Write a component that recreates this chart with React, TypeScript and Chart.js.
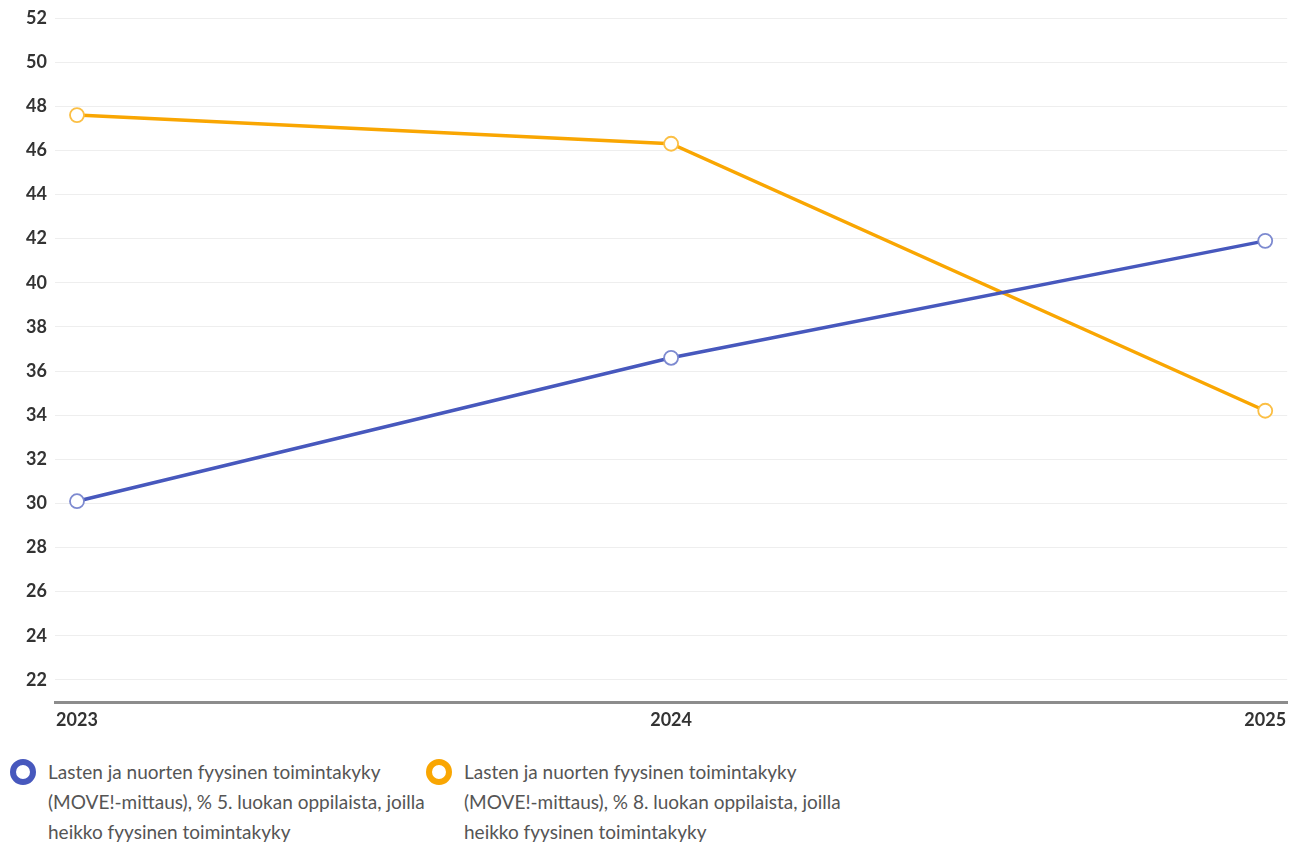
import React, { useEffect, useRef } from "react";
import { Chart, registerables } from "chart.js";

Chart.register(...registerables);

const years = ["2023", "2024", "2025"];
const grade5 = [30.1, 36.6, 41.9];
const grade8 = [47.6, 46.3, 34.2];
const yTicks = [22, 24, 26, 28, 30, 32, 34, 36, 38, 40, 42, 44, 46, 48, 50, 52];
const legendLines5 = [
  "Lasten ja nuorten fyysinen toimintakyky",
  "(MOVE!-mittaus), % 5. luokan oppilaista, joilla",
  "heikko fyysinen toimintakyky",
];
const legendLines8 = [
  "Lasten ja nuorten fyysinen toimintakyky",
  "(MOVE!-mittaus), % 8. luokan oppilaista, joilla",
  "heikko fyysinen toimintakyky",
];

const BLUE = "#4758bd";
const ORANGE = "#f9a602";
const FONT = "'Source Sans Pro', Lato, 'Noto Sans', sans-serif";

export default function App() {
  const ref = useRef<HTMLCanvasElement | null>(null);

  useEffect(() => {
    if (!ref.current) return;
    const chart = new Chart(ref.current, {
      type: "line",
      data: {
        datasets: [
          {
            label: legendLines5.join(" "),
            data: years.map((y, i) => ({ x: Number(y), y: grade5[i] })),
            borderColor: BLUE,
            backgroundColor: "#ffffff",
            pointBorderColor: "#7d8ad0",
            pointBackgroundColor: "#ffffff",
            borderWidth: 3.5,
            pointRadius: 7,
            pointBorderWidth: 1.8,
            tension: 0,
          },
          {
            label: legendLines8.join(" "),
            data: years.map((y, i) => ({ x: Number(y), y: grade8[i] })),
            borderColor: ORANGE,
            backgroundColor: "#ffffff",
            pointBorderColor: "#fbbf45",
            pointBackgroundColor: "#ffffff",
            borderWidth: 3.5,
            pointRadius: 7,
            pointBorderWidth: 1.8,
            tension: 0,
          },
        ],
      },
      options: {
        animation: false,
        responsive: false,
        layout: { padding: { top: 10, right: 5, left: 0, bottom: 0 } },
        plugins: { legend: { display: false }, tooltip: { enabled: false } },
        scales: {
          x: {
            type: "linear",
            min: 2022.963,
            max: 2025.037,
            afterBuildTicks: (scale: any) => {
              scale.ticks = years.map((y) => ({ value: Number(y) }));
            },
            afterFit: (scale: any) => {
              scale.height = 40;
              scale.paddingLeft = 0;
              scale.paddingRight = 0;
            },
            grid: { display: false, drawTicks: false },
            border: { display: true, color: "#8c8c8c", width: 3 },
            ticks: {
              padding: 7,
              color: "#333333",
              font: { family: FONT, size: 18, weight: "bold" },
              maxRotation: 0,
              autoSkip: false,
              callback: (v: any) => String(v),
            },
          },
          y: {
            min: 21,
            max: 52,
            afterBuildTicks: (scale: any) => {
              scale.ticks = yTicks.map((v) => ({ value: v }));
            },
            afterFit: (scale: any) => {
              scale.width = 47;
              scale.paddingTop = 0;
              scale.paddingBottom = 0;
            },
            grid: { color: "#eeeeee", lineWidth: 1, drawTicks: false },
            border: { display: false },
            ticks: {
              padding: 8,
              color: "#333333",
              font: { family: FONT, size: 18, weight: "bold" },
            },
          },
        },
      },
    });
    return () => chart.destroy();
  }, []);

  const item = (color: string, lines: string[]) => (
    <div style={{ display: "flex", alignItems: "flex-start", width: 416 }}>
      <div
        style={{
          width: 14,
          height: 14,
          borderRadius: "50%",
          border: `6px solid ${color}`,
          background: "#fff",
          marginTop: -7,
          marginLeft: 2,
          flex: "0 0 auto",
        }}
      />
      <div
        style={{
          marginLeft: 12,
          color: "#555555",
          fontFamily: FONT,
          fontSize: 19,
          lineHeight: "30px",
          marginTop: -9,
          whiteSpace: "nowrap",
        }}
      >
        {lines.map((l, i) => (
          <div key={i}>{l}</div>
        ))}
      </div>
    </div>
  );

  return (
    <div style={{ width: 1288 }}>
      <canvas ref={ref} width={1288} height={734} style={{ display: "block" }} />
      <div style={{ display: "flex", marginTop: 24 }}>
        {item(BLUE, legendLines5)}
        {item(ORANGE, legendLines8)}
      </div>
    </div>
  );
}
